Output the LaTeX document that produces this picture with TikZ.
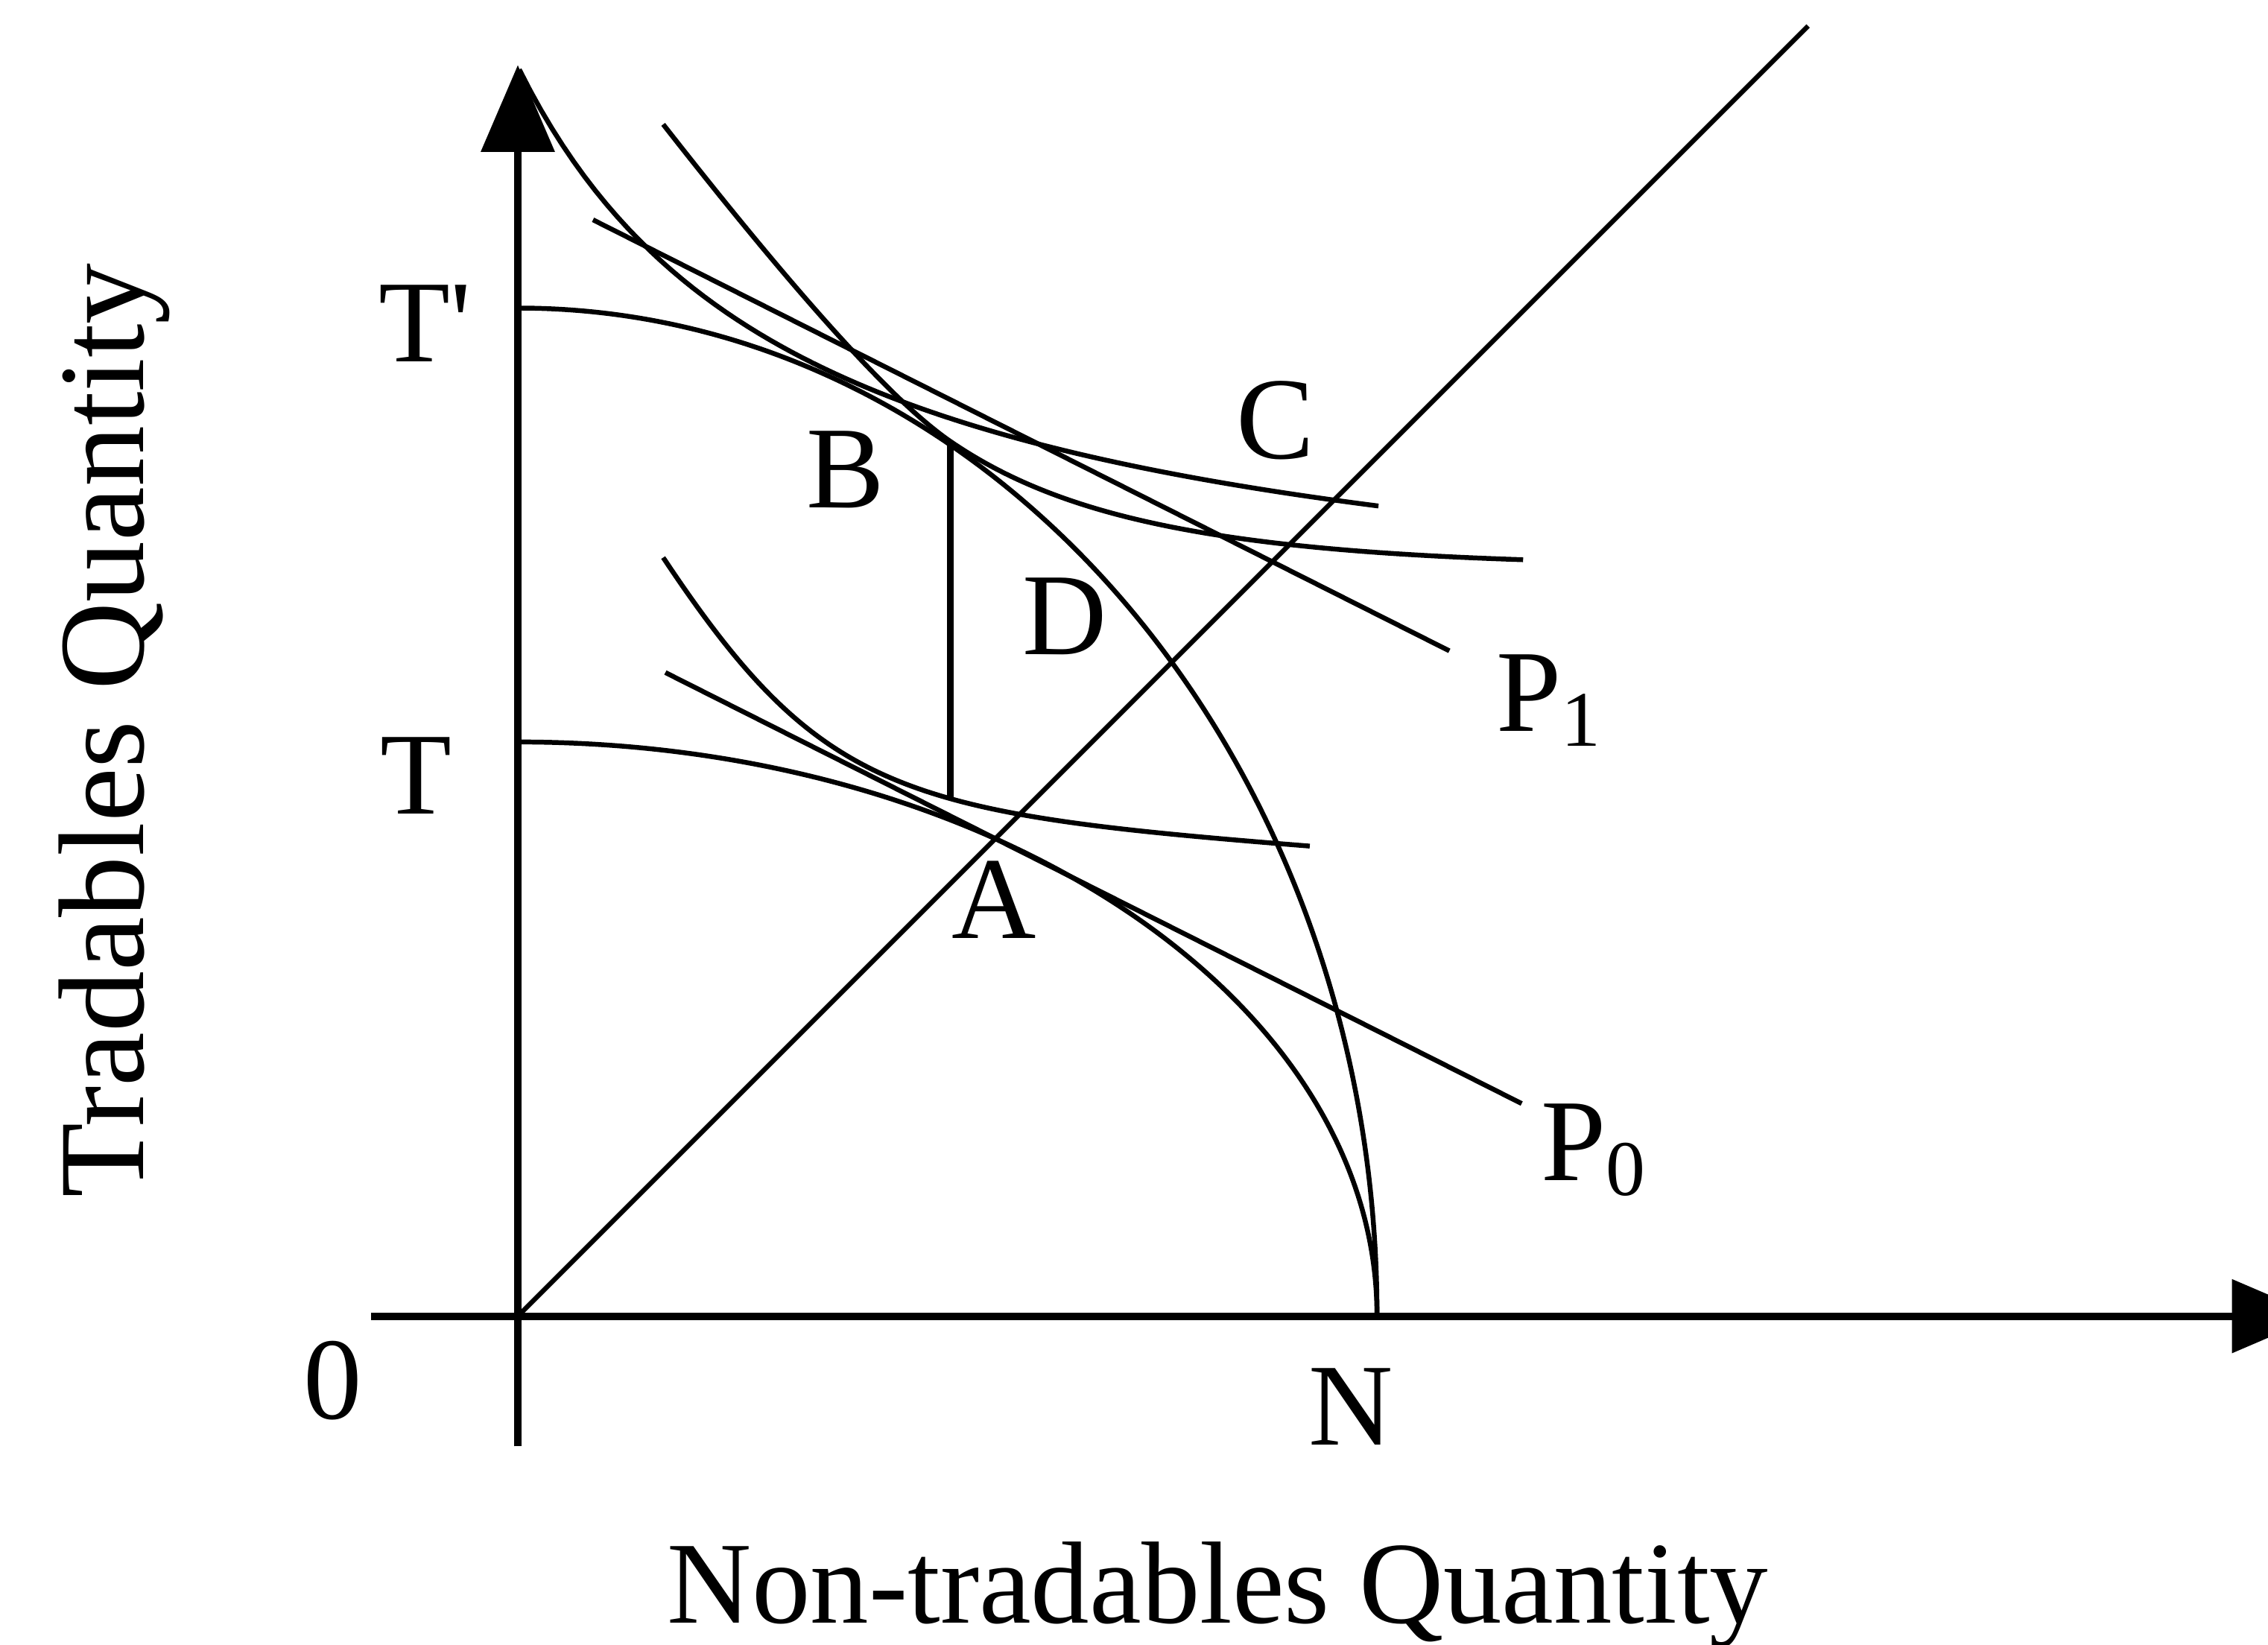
\documentclass[tikz,border=0pt]{standalone}
\usepackage{fontspec}
\setmainfont{Liberation Serif}
\usetikzlibrary{arrows.meta,positioning}

\begin{document}
\begin{tikzpicture}[
    curve/.style={line width=1.9pt},
    axis/.style={line width=2.9pt, -{Triangle[length=1.2cm, width=1cm]}},
    lbl/.style={font=\fontsize{46}{55}\selectfont, inner sep=0pt, anchor=base}
]
    \useasboundingbox (-7.16,-4.54) rectangle (24.2,18.2);

    \coordinate (O) at (0,0);
    \coordinate (ybot) at (0,-1.8);
    \coordinate (ytop) at (0,17.3);
    \coordinate (xleft) at (-2.03,0);
    \coordinate (xright) at (24.9,0);
    \coordinate (ray) at (17.84,17.84);
    \coordinate (Tp) at (0,13.94);
    \coordinate (T) at (0,7.94);
    \coordinate (B) at (5.98,12.05);
    \coordinate (Bd) at (5.98,7.17);
    \coordinate (P0a) at (2.04,8.9);
    \coordinate (P0b) at (13.88,2.94);
    \coordinate (P1a) at (1.04,15.16);
    \coordinate (P1b) at (12.88,9.2);

    \draw[axis] (ybot) -- (ytop);
    \draw[axis] (xleft) -- (xright);
    \draw[curve] (O) -- (ray);

    \draw[curve] (Tp) arc[start angle=90, end angle=0, x radius=11.88, y radius=13.94];
    \draw[curve] (T) arc[start angle=90, end angle=0, x radius=11.88, y radius=7.94];

    \draw[curve] (P0a) -- (P0b);
    \draw[curve] (P1a) -- (P1b);

    \draw[curve] (2.01,10.49) .. controls (4.20,7.20) and (5.31,6.95) .. (10.95,6.5);
    \draw[curve] (2.01,16.48) .. controls (3.88,14.09) and (5.21,12.62) .. (5.99,12.09)
        .. controls (7.50,11.06) and (9.60,10.60) .. (13.9,10.46);
    \draw[curve] plot[domain=0.02:11.9, samples=80] (\x,{9.16+32.48/(\x+4)});

    \draw[curve, line width=2.4pt] (B) -- (Bd);

    \node[lbl] (lTp) at (-1.28,13.2) {T\textquotesingle};
    \node[lbl] (lT) at (-1.41,6.94) {T};
    \node[lbl] (lO) at (-2.56,-1.42) {0};
    \node[lbl] (lN) at (11.52,-1.78) {N};
    \node[lbl] (lA) at (6.58,5.22) {A};
    \node[lbl] (lB) at (4.53,11.18) {B};
    \node[lbl] (lC) at (10.48,11.86) {C};
    \node[lbl] (lD) at (7.56,9.15) {D};
    \node[lbl, anchor=base west] (lP1) at (13.52,8.09) {P\raisebox{-6pt}{\fontsize{31}{31}\selectfont 1}};
    \node[lbl, anchor=base west] (lP0) at (14.14,1.88) {P\raisebox{-6pt}{\fontsize{31}{31}\selectfont 0}};

    \node[lbl, rotate=90, font=\fontsize{48}{55}\selectfont] (ylab) at (-5.18,8.1) {Tradables Quantity};
    \node[lbl] (xlab) at (9.68,-4.24) {Non-tradables Quantity};
\end{tikzpicture}
\end{document}
